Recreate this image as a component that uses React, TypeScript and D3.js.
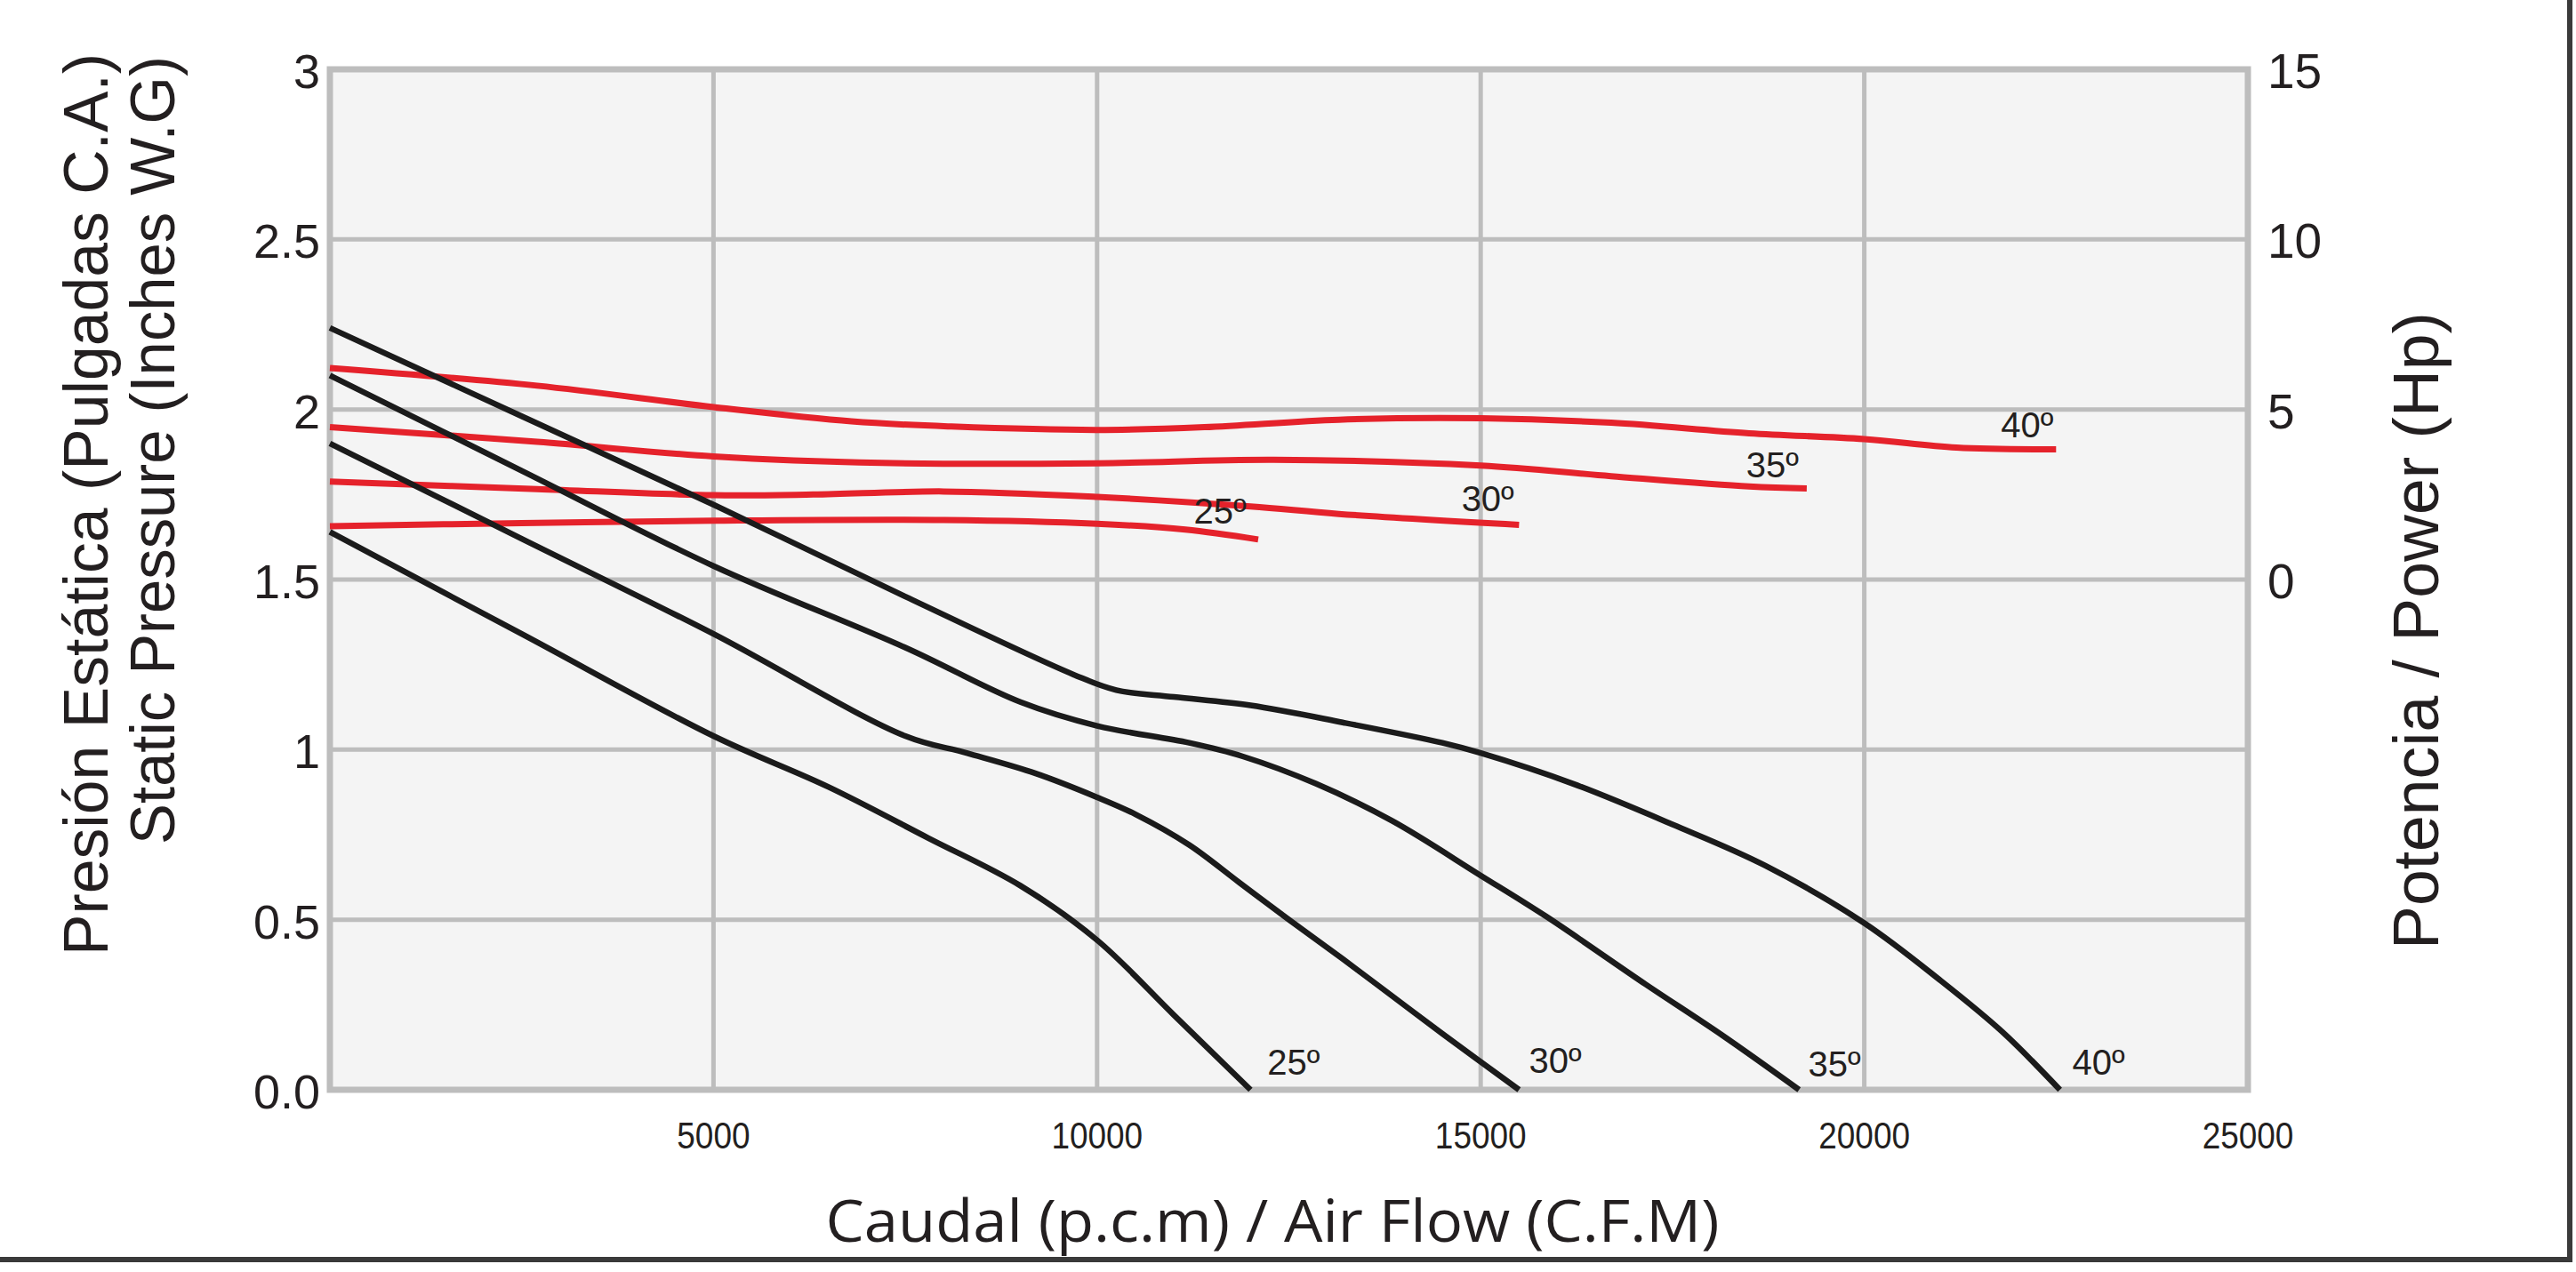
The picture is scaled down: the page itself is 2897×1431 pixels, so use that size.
import React from "react";
import * as d3 from "d3";

// ---------- data ----------
const xTicks = [5000, 10000, 15000, 20000, 25000];
const yTicks = [0, 0.5, 1, 1.5, 2, 2.5, 3];
const yTickLabels = ["0.0", "0.5", "1", "1.5", "2", "2.5", "3"];
const powerTicks = [0, 5, 10, 15];

// Static pressure curves (CFM, in. W.G)
const pressure25: [number, number][] = [
  [0, 1.64], [2500, 1.34], [5000, 1.04], [6500, 0.89], [7800, 0.74], [9000, 0.6],
  [10000, 0.44], [11000, 0.22], [12000, 0],
];
const pressure30: [number, number][] = [
  [0, 1.9], [2500, 1.62], [5000, 1.34], [7500, 1.04], [8300, 0.99], [9200, 0.93],
  [10000, 0.86], [10500, 0.81], [11200, 0.72], [11850, 0.61], [12500, 0.5],
  [13200, 0.385], [13850, 0.275], [14500, 0.165], [15500, 0],
];
const pressure35: [number, number][] = [
  [0, 2.1], [2500, 1.82], [5000, 1.54], [7500, 1.3], [9000, 1.14], [10000, 1.07],
  [11200, 1.02], [11900, 0.98], [12850, 0.9], [13850, 0.79], [15000, 0.63],
  [15850, 0.51], [17150, 0.31], [18150, 0.16], [19150, 0],
];
const pressure40: [number, number][] = [
  [0, 2.24], [2500, 1.98], [5000, 1.72], [7500, 1.45], [9700, 1.22], [10250, 1.175],
  [11000, 1.155], [12000, 1.13], [13200, 1.08], [14500, 1.02], [15000, 0.99],
  [16200, 0.9], [17500, 0.78], [18700, 0.66], [20000, 0.49], [21000, 0.32],
  [21800, 0.17], [22550, 0],
];

// Power curves (CFM, Hp)
const power25: [number, number][] = [
  [0, 1.57], [2500, 1.66], [5000, 1.73], [8000, 1.75], [10000, 1.64], [11150, 1.47], [12100, 1.18],
];
const power30: [number, number][] = [
  [0, 2.88], [2700, 2.66], [5000, 2.48], [6300, 2.5], [8000, 2.59], [10000, 2.43],
  [12000, 2.15], [13150, 1.93], [15500, 1.61],
];
const power35: [number, number][] = [
  [0, 4.48], [2700, 4.05], [5000, 3.62], [7200, 3.43], [10000, 3.42], [12300, 3.52],
  [15000, 3.35], [16700, 3.04], [18500, 2.74], [19250, 2.68],
];
const power40: [number, number][] = [
  [0, 6.22], [2700, 5.7], [5000, 5.07], [6800, 4.65], [8100, 4.5], [10000, 4.4],
  [11400, 4.48], [13150, 4.7], [15000, 4.74], [16700, 4.61], [18500, 4.3],
  [20000, 4.13], [21200, 3.88], [22500, 3.83],
];

const pressureSeries = [
  { name: "25º", data: pressure25, label: [12220, 0.045] },
  { name: "30º", data: pressure30, label: [15630, 0.05] },
  { name: "35º", data: pressure35, label: [19270, 0.04] },
  { name: "40º", data: pressure40, label: [22710, 0.045] },
];
const powerSeries = [
  { name: "25º", data: power25, label: [11260, 1.665] },
  { name: "30º", data: power30, label: [14750, 1.7] },
  { name: "35º", data: power35, label: [18460, 1.8] },
  { name: "40º", data: power40, label: [21780, 1.917] },
];

// ---------- layout ----------
const W = 2897;
const H = 1431;
const left = 371;
const right = 2528;
const top = 78;
const bottom = 1226;

const x = d3.scaleLinear().domain([0, 25000]).range([left, right]);
const y = d3.scaleLinear().domain([0, 3]).range([bottom, top]);
const yP = d3.scaleLinear().domain([0, 15]).range([y(1.5), y(3)]);

const pressureLine = d3
  .line<[number, number]>()
  .x((d) => x(d[0]))
  .y((d) => y(d[1]))
  .curve(d3.curveCatmullRom.alpha(0.5));
const powerLine = d3
  .line<[number, number]>()
  .x((d) => x(d[0]))
  .y((d) => yP(d[1]))
  .curve(d3.curveCatmullRom.alpha(0.5));

const gridColor = "#bdbdbd";
const textColor = "#231f20";
const sans = "'Liberation Sans', Arial, Helvetica, sans-serif";
const narrow = "'Liberation Sans Narrow', 'Liberation Sans', Arial, sans-serif";
const humanist = "'Open Sans', 'Noto Sans', sans-serif";

export default function App() {
  return (
    <svg
      width={W}
      height={H}
      viewBox={`0 0 ${W} ${H}`}
      style={{ position: "absolute", left: 0, top: 0, background: "#fff" }}
    >
      <rect x={0} y={0} width={W} height={H} fill="#fff" />
      {/* outer frame (bottom + right) */}
      <line x1={0} x2={2893} y1={1417} y2={1417} stroke="#3a3a3a" strokeWidth={6} />
      <line x1={2890} x2={2890} y1={0} y2={1420} stroke="#3a3a3a" strokeWidth={6} />

      {/* plot background */}
      <rect x={left} y={top} width={right - left} height={bottom - top} fill="#f4f4f4" />

      {/* grid */}
      {xTicks.filter((v) => v < 25000).map((v) => (
        <line key={"gx" + v} x1={x(v)} x2={x(v)} y1={top} y2={bottom} stroke={gridColor} strokeWidth={5} />
      ))}
      {yTicks.filter((v) => v > 0 && v < 3).map((v) => (
        <line key={"gy" + v} x1={left} x2={right} y1={y(v)} y2={y(v)} stroke={gridColor} strokeWidth={5} />
      ))}
      <rect
        x={left}
        y={top}
        width={right - left}
        height={bottom - top}
        fill="none"
        stroke={gridColor}
        strokeWidth={7}
      />

      {/* power curves (red) */}
      {powerSeries.map((s) => (
        <path key={"p" + s.name} d={powerLine(s.data) || ""} fill="none" stroke="#e5222b" strokeWidth={7} strokeLinecap="butt" />
      ))}
      {/* pressure curves (black) */}
      {pressureSeries.map((s) => (
        <path key={"s" + s.name} d={pressureLine(s.data) || ""} fill="none" stroke="#1b1b1b" strokeWidth={6.5} />
      ))}

      {/* curve labels */}
      {powerSeries.map((s) => (
        <text key={"pl" + s.name} x={x(s.label[0])} y={y(s.label[1])} fontFamily={narrow} fontSize={40} fill={textColor}>
          {s.name}
        </text>
      ))}
      {pressureSeries.map((s) => (
        <text key={"sl" + s.name} x={x(s.label[0])} y={y(s.label[1])} fontFamily={narrow} fontSize={40} fill={textColor}>
          {s.name}
        </text>
      ))}

      {/* left ticks */}
      {yTicks.map((v, i) => (
        <text key={"yl" + v} x={360} y={y(v) + 21} textAnchor="end" fontFamily={sans} fontSize={54} fill={textColor}>
          {yTickLabels[i]}
        </text>
      ))}
      {/* right ticks */}
      {powerTicks.map((v) => (
        <text key={"pr" + v} x={2550} y={yP(v) + 21} textAnchor="start" fontFamily={sans} fontSize={55} fill={textColor}>
          {v}
        </text>
      ))}
      {/* x ticks */}
      {xTicks.map((v) => (
        <text
          key={"xl" + v}
          transform={`translate(${x(v)},1292) scale(0.88,1)`}
          textAnchor="middle"
          fontFamily={narrow}
          fontSize={42}
          fill={textColor}
        >
          {v}
        </text>
      ))}

      {/* axis titles */}
      <text
        x={1431}
        y={1397}
        textAnchor="middle"
        fontFamily={humanist}
        fontSize={66}
        fill={textColor}
        textLength={1005}
        lengthAdjust="spacingAndGlyphs"
      >
        Caudal (p.c.m) / Air Flow (C.F.M)
      </text>
      <text
        transform={`translate(121,1075) rotate(-90)`}
        textAnchor="start"
        fontFamily={sans}
        fontSize={70}
        fill={textColor}
        textLength={1015}
        lengthAdjust="spacingAndGlyphs"
      >
        Presión Estática (Pulgadas C.A.)
      </text>
      <text
        transform={`translate(196,950) rotate(-90)`}
        textAnchor="start"
        fontFamily={sans}
        fontSize={70}
        fill={textColor}
        textLength={887}
        lengthAdjust="spacingAndGlyphs"
      >
        Static Pressure (Inches W.G)
      </text>
      <text
        transform={`translate(2742,1068) rotate(-90)`}
        textAnchor="start"
        fontFamily={sans}
        fontSize={72}
        fill={textColor}
        textLength={717}
        lengthAdjust="spacingAndGlyphs"
      >
        Potencia / Power (Hp)
      </text>
    </svg>
  );
}
